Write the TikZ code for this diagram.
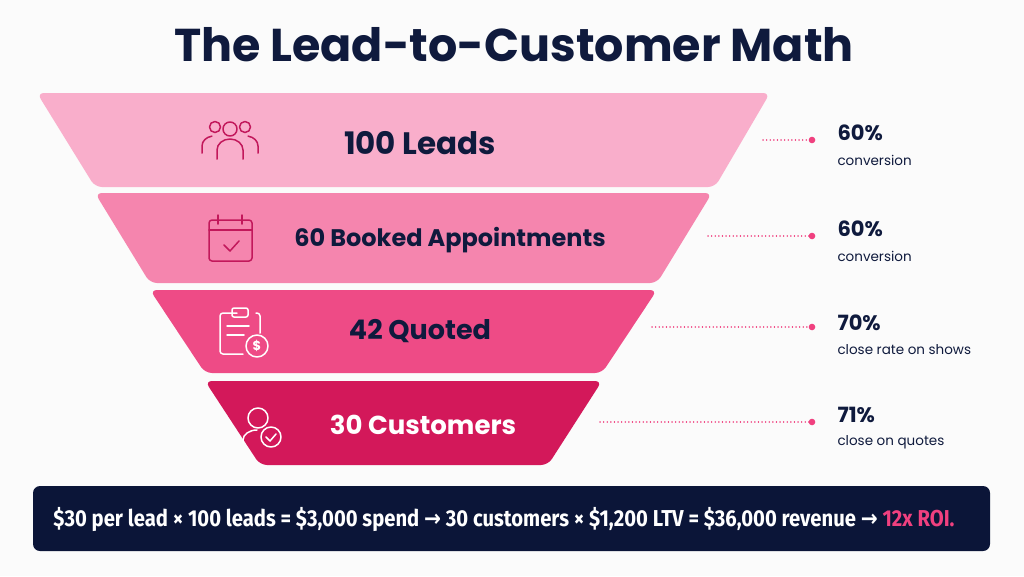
\documentclass[tikz,border=0pt]{standalone}
\usepackage{fontspec}
\setmainfont{Poppins}
\newfontfamily\fira{Fira Sans}
\newfontfamily\dvs{DejaVu Sans}
\definecolor{navy}{HTML}{0F1A3D}
\definecolor{barc}{HTML}{0B1538}
\definecolor{c1}{HTML}{F9AECB}
\definecolor{c2}{HTML}{F585AE}
\definecolor{c3}{HTML}{EE4B86}
\definecolor{c4}{HTML}{D3185A}
\definecolor{ic}{HTML}{C2185B}
\definecolor{hot}{HTML}{F0407F}
\begin{document}
\begin{tikzpicture}[x=1pt,y=-1pt,
  stage/.style={rounded corners=7pt},
  lab/.style={font=\bfseries\fontsize{#1}{30}\selectfont},
  pct/.style={anchor=west,text=navy,font=\bfseries\fontsize{21}{24}\selectfont},
  sub/.style={anchor=west,text=navy,font=\fontsize{13.5}{16}\selectfont},
  dots/.style={hot,line width=1.4pt,dash pattern=on 0.1pt off 3.5pt,line cap=round},
  ico/.style={line width=1.5pt,line cap=round,line join=round}]
\fill[white!97!gray] (0,0) rectangle (1024,576);
\useasboundingbox (0,0) rectangle (1024,576);
\node[text=navy,font=\bfseries\fontsize{46}{52}\selectfont] (title) at (514,45) {The Lead-to-Customer Math};
\fill[c1,stage] (37,93) -- (770,93) -- (715,187) -- (95,187) -- cycle;
\fill[c2,stage] (95,193) -- (712,193) -- (657,283) -- (150,283) -- cycle;
\fill[c3,stage] (150,290) -- (657,290) -- (602,373) -- (205,373) -- cycle;
\fill[c4,stage] (205,381) -- (602,381) -- (548,465) -- (260,465) -- cycle;
\node[lab=31,text=navy] (s1) at (420,143) {100 Leads};
\node[lab=24,text=navy] (s2) at (450,240) {60 Booked Appointments};
\node[lab=27,text=navy] (s3) at (420,331) {42 Quoted};
\node[lab=26,text=white] (s4) at (423,425) {30 Customers};
% icon 1 people
\begin{scope}[ico,draw=ic]
\draw (230,129) circle (7);
\draw (215,127) circle (5.5); \draw (245,127) circle (5.5);
\draw (217,159) -- (217,150) arc (180:360:13 and 11) -- (243,159);
\draw (202,153) -- (202,146) arc (180:260:12 and 10);
\draw (258,153) -- (258,146) arc (360:280:12 and 10);
\end{scope}
% icon 2 calendar
\begin{scope}[ico,draw=ic]
\draw[rounded corners=3pt] (209,220) rectangle (252,261);
\draw (209,230) -- (252,230);
\draw (218,215) -- (218,224); \draw (242,215) -- (242,224);
\draw (224,245) -- (230,251) -- (239,241);
\end{scope}
% icon 3 clipboard $
\begin{scope}[ico,draw=white]
\draw[rounded corners=3pt] (237,313) -- (220,313) -- (220,354) -- (243,354);
\draw[rounded corners=3pt] (256,313) -- (260,313) -- (260,333);
\draw[rounded corners=2pt] (232,308) rectangle (248,317);
\draw (227,326) -- (249,326); \draw (227,335) -- (244,335);
\draw (257,346) circle (11);
\node[text=white,font=\bfseries\fontsize{13}{13}\selectfont] (dol) at (257,346) {\$};
\end{scope}
% icon 4 user check
\begin{scope}[ico,draw=white]
\draw (258,418) circle (10);
\draw (243,443) -- (243,440) arc (180:270:14 and 10);
\draw (271,437) circle (10);
\draw (266,437) -- (270,441) -- (276,434);
\end{scope}
% connectors
\coordinate (e1) at (763,140); \coordinate (d1) at (812,140);
\coordinate (e2) at (708,236); \coordinate (d2) at (812,236);
\coordinate (e3) at (652,327); \coordinate (d3) at (812,327);
\coordinate (e4) at (600,422); \coordinate (d4) at (812,422);
\foreach \i in {1,...,4}{
  \draw[dots] (e\i) -- (d\i);
  \fill[hot] (d\i) circle (3.3);
}
\node[pct] (p1) at (834,133) {60\%}; \node[sub] (t1) at (834,160) {conversion};
\node[pct] (p2) at (834,229) {60\%}; \node[sub] (t2) at (834,256) {conversion};
\node[pct] (p3) at (834,323) {70\%}; \node[sub] (t3) at (834,350) {close rate on shows};
\node[pct] (p4) at (834,415) {71\%}; \node[sub] (t4) at (834,442) {close on quotes};
\fill[barc,rounded corners=7pt] (33,486) rectangle (990,551);
\node[text=white,font=\fira\bfseries\fontsize{23}{26}\selectfont] (bar) at (504,519)
 {\scalebox{0.88}[1]{\$30 per lead × 100 leads = \$3,000 spend {\dvs→} 30 customers × \$1,200 LTV = \$36,000 revenue {\dvs→} \textcolor{hot}{12x ROI.}}};
\end{tikzpicture}
\end{document}
